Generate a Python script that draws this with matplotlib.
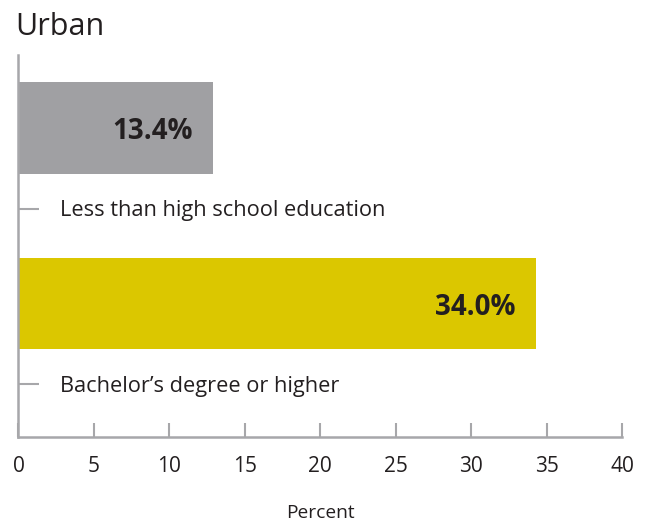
"""Urban: share of adults by education level (horizontal bars)."""
import matplotlib
matplotlib.use("Agg")
import matplotlib.pyplot as plt

plt.rcParams["font.family"] = ["Open Sans", "DejaVu Sans"]

categories = ["Less than high school education", "Bachelor\u2019s degree or higher"]
bar_values = [12.9, 34.3]          # bar lengths as drawn
value_labels = ["13.4%", "34.0%"]  # printed labels
bar_colors = ["#a0a0a3", "#dbc700"]
x_ticks = [0, 5, 10, 15, 20, 25, 30, 35, 40]

AXIS_GREY = "#a7a7aa"
TEXT = "#231f20"


def main() -> None:
    fig = plt.figure(figsize=(6.49, 5.23), dpi=100)
    ax = fig.add_axes([0.0285, 0.1644, 0.9300, 0.7304])

    idx = list(range(len(categories)))
    ax.barh(idx, bar_values, height=0.52, color=bar_colors, zorder=2)

    for i, (v, lab) in enumerate(zip(bar_values, value_labels)):
        ax.text(v - 1.35, i + 0.02, lab, ha="right", va="center", fontsize=20,
                fontweight="bold", color=TEXT, zorder=3)

    # category labels sit under each bar, next to an inward tick
    ytick_pos = [i + 0.46 for i in idx]
    ax.set_yticks(ytick_pos)
    ax.set_yticklabels([])
    ax.tick_params(axis="y", direction="in", length=15, width=1.5, color=AXIS_GREY)
    for y, cat in zip(ytick_pos, categories):
        ax.text(0.0695, y + 0.01, cat, transform=ax.get_yaxis_transform(), ha="left",
                va="center", fontsize=15.7, color=TEXT)

    ax.set_xlim(0, 40)
    ax.set_ylim(1.76, -0.416)
    ax.set_xticks(x_ticks)
    ax.tick_params(axis="x", direction="in", length=10, width=1.5, color=AXIS_GREY,
                   labelsize=15, labelcolor=TEXT, pad=14)
    ax.set_xlabel("Percent", fontsize=13.8, color=TEXT, labelpad=19)

    for side in ("top", "right"):
        ax.spines[side].set_visible(False)
    for side in ("left", "bottom"):
        ax.spines[side].set_color(AXIS_GREY)
        ax.spines[side].set_linewidth(1.8)

    fig.text(0.023, 0.978, "Urban", ha="left", va="top", fontsize=22, color=TEXT)

    fig.savefig("out.png", dpi=100)
    plt.close(fig)


if __name__ == "__main__":
    main()
